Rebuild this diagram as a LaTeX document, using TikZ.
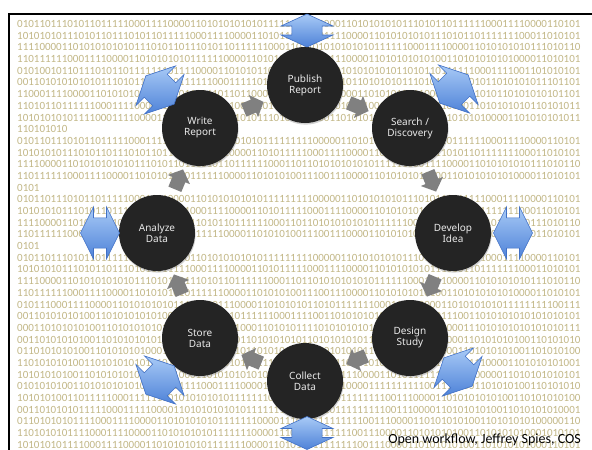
\documentclass[tikz,border=0pt]{standalone}
\usepackage{fontspec}
\usetikzlibrary{calc,shadows}
\newfontfamily\digitfont{Carlito}
\newfontfamily\creditfont{Carlito}
\newfontfamily\stagefont{Noto Sans}

\definecolor{digitcol}{RGB}{194,183,134}
\definecolor{stagefill}{RGB}{36,36,36}
\definecolor{stagetext}{RGB}{234,234,234}
\definecolor{flowgray}{RGB}{128,128,128}
\definecolor{bluelight}{RGB}{168,202,246}
\definecolor{bluedark}{RGB}{78,130,216}
\definecolor{blueedge}{RGB}{64,112,198}

\tikzset{
  stage/.style={circle, fill=stagefill, minimum size=76pt, inner sep=0pt,
    text=stagetext, font={\stagefont\fontsize{10}{11}\selectfont}, align=center,
    drop shadow={shadow xshift=0.6pt, shadow yshift=-1.6pt, opacity=0.35}},
  bits/.style={anchor=base west, inner sep=0pt, text=digitcol,
    font={\digitfont\fontsize{11}{13}\selectfont}},
  flowarrow/.style={fill=flowgray},
  ioarrow/.style={top color=bluelight, bottom color=bluedark, draw=blueedge,
    line width=0.6pt, line join=miter},
  frameline/.style={line width=2pt, line cap=rect},
}

% two-headed block arrow: centre, angle, length, head width, head length
\newcommand{\twowayarrow}[5]{%
  \begin{scope}[shift={#1}, rotate=#2]
    \path[ioarrow]
      (-#3/2,0) -- (-#3/2+#5,-#4/2) -- (-#3/2+#5,-#4*0.29) -- (#3/2-#5,-#4*0.29)
      -- (#3/2-#5,-#4/2) -- (#3/2,0) -- (#3/2-#5,#4/2) -- (#3/2-#5,#4*0.29)
      -- (-#3/2+#5,#4*0.29) -- (-#3/2+#5,#4/2) -- cycle;
  \end{scope}}

% short block arrow half way between two stages, pointing from #1 to #2
\newcommand{\stepflow}[3]{%
  \begin{scope}[shift={($(#1)!0.5!(#2)$)}, rotate=#3]
    \fill[flowarrow] (-9.5,-7) -- (1,-7) -- (1,-12) -- (12,0)
      -- (1,12) -- (1,7) -- (-9.5,7) -- cycle;
  \end{scope}}

% a line of the backdrop keeps at most 101 digits
\newcount\bitcount
\def\firstbits#1{\bitcount=0 \firstbitsloop#1\relax}
\def\firstbitsloop#1{\ifx#1\relax\else
  \ifnum\bitcount<101 #1\advance\bitcount by 1 \fi
  \expandafter\firstbitsloop\fi}

\def\rowA{01011011101011011111000111100001101010101010111111111000001101010101011101011011111100011110000110101010111010110}
\def\rowB{10101010111010110111010110111110001111000011010111110001111000011010101010111010110111111100011010101011101011}
\def\rowC{11110000110101010101011101011011101011011111100011011010101010101111110001111000011010101010111010110101101011}
\def\rowD{11011111100011110000110101010101111110000110101010011100111000011010101010100110101010101000011010101101010110}

\begin{document}
\begin{tikzpicture}[x=1pt, y=-1pt]
  \useasboundingbox (0,0) rectangle (592,450);
  \fill[white] (0,0) rectangle (592,450);

  % binary backdrop
  \foreach \r [count=\n from 0] in {
    \rowA,\rowB,\rowC,\rowD,
    01010010110111010110111111101111000011010101101111100001101010101010110101101111110001111001101010101011101011010,
    00110101010101011101011010110111111000111110111111000111101011010101011101011011101011010101011101101011101101,
    11000111100001101010101011101011011101101100011010100111100001101010101110000110101010110101010101101110101101,
    11010110111111000111100001101010110111100011011010100110101010100110101010101000011010101010110101011010101101,
    10101010101111000111100001101010111011110101110101010100110101010101000011010101010100001101010101011010101101,
    110101010,
    \rowA,\rowB,\rowC,\rowD,
    0101,
    \rowA,\rowB,\rowC,\rowD,
    0101,
    \rowA,\rowB,\rowC,\rowD,
    01011100011110000110101010101111110011100001101010101101011111110001111100001101010101011111111100111001101,
    00110101010100110101010101000110101010101111110001111001101010101011111111001110011010101010101010101110011100,
    00011010101010011010101010101111000111110001101010111101010101011111111001110000111010101010101010111111001110,
    00110101010100110101010101011000111100001101010101011010101010111111110011100000110101010100110101010111111100,
    01101010101001101010101000110101110101010110101010101010101010111111110011100001101010101001101010100111001110,
    11010101010011010101010101011010101010101111111100111000011010101010011111111110011100001101010101001100111000,
    10101010100110101010101011111000110101010101010101111111001110000110101111111100110000011010101010101110011000,
    01010101001101010101010001010111100011110000110101011111111000011111111110011100001101010100110101010101000110,
    10101010011011111000111111101010101010111111100001101010101111111100111000011010101010100110101010100101010100,
    00110101010111110001111100001101010101010111111100001101011111111100111000011010101010011010101010001101010100,
    01101010101111000111100001101010101011111110000111010111111111001110000110101010100110101010100000110101011101,
    11010101011110001111000011010101010111111100001110111111111100111000011010101010011010101010001010101100011010,
    10101010111100011110000110101010101111111000011010111111111110011100001101010101001101010101000110101011100110}
    {\edef\rowtext{\r}
     \node[bits] (bits-\n) at (17, {27.5+\n*11.69}) {\expandafter\firstbits\expandafter{\rowtext}};}

  % frame
  \draw[frameline] (9.3,451) -- (9.3,13.7) -- (593,13.7);

  % research stages
  \node[stage] (publish)  at (305,85)  {Publish\\Report};
  \node[stage] (search)   at (410,128) {Search /\\Discovery};
  \node[stage] (develop)  at (453,233) {Develop\\Idea};
  \node[stage] (design)   at (410,338) {Design\\Study};
  \node[stage] (collect)  at (305,381) {Collect\\Data};
  \node[stage] (store)    at (200,338) {Store\\Data};
  \node[stage] (analyze)  at (157,233) {Analyze\\Data};
  \node[stage] (write)    at (200,128) {Write\\Report};

  % clockwise flow between stages
  \stepflow{write}{publish}{22.5}
  \stepflow{publish}{search}{-22.5}
  \stepflow{search}{develop}{-67.5}
  \stepflow{develop}{design}{-112.5}
  \stepflow{design}{collect}{-157.5}
  \stepflow{collect}{store}{157.5}
  \stepflow{store}{analyze}{112.5}
  \stepflow{analyze}{write}{67.5}

  % outward exchange arrows
  \coordinate (publish-io) at (307,30.5);
  \coordinate (search-io)  at (454,89);
  \coordinate (develop-io) at (513,233);
  \coordinate (design-io)  at (458,372);
  \coordinate (collect-io) at (307,433);
  \coordinate (store-io)   at (160,380);
  \coordinate (analyze-io) at (100,233);
  \coordinate (write-io)   at (160,90);

  \twowayarrow{(publish-io)}{90}{33}{52}{12}
  \twowayarrow{(collect-io)}{90}{33}{52}{12}
  \twowayarrow{(develop-io)}{0}{39}{52}{13}
  \twowayarrow{(analyze-io)}{0}{39}{52}{13}
  \twowayarrow{(write-io)}{-45}{40}{56}{14}
  \twowayarrow{(design-io)}{-45}{40}{56}{14}
  \twowayarrow{(search-io)}{45}{40}{56}{14}
  \twowayarrow{(store-io)}{45}{40}{56}{14}

  % credit line
  \node[anchor=base east, inner sep=0pt, font={\creditfont\fontsize{14}{16}\selectfont}]
    (credit) at (581,443) {Open workflow, Jeffrey Spies, COS};
\end{tikzpicture}
\end{document}
